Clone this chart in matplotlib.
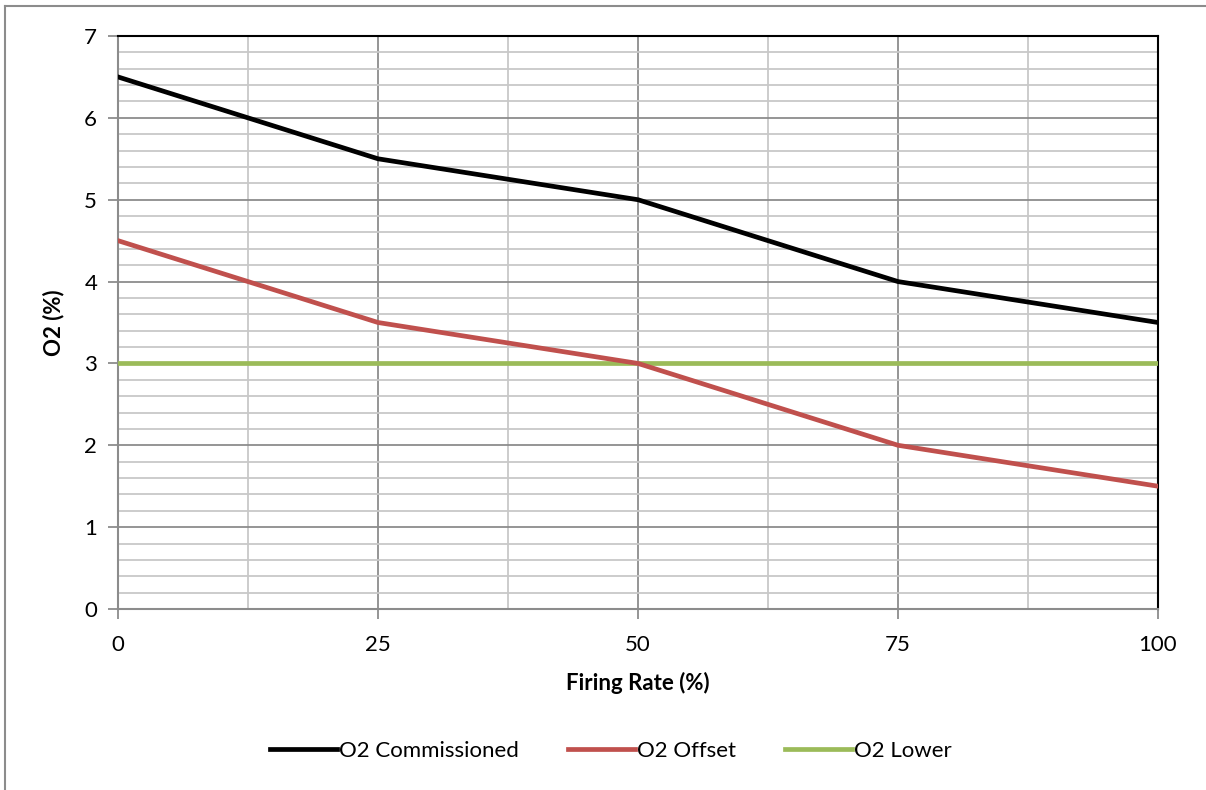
import matplotlib.pyplot as plt
from matplotlib.lines import Line2D
from matplotlib.ticker import MultipleLocator

firing_rate = [0, 25, 50, 75, 100]
o2_commissioned = [6.5, 5.5, 5.0, 4.0, 3.5]
o2_offset = [4.5, 3.5, 3.0, 2.0, 1.5]
o2_lower = [3, 3, 3, 3, 3]

plt.rcParams['font.family'] = ['Lato', 'DejaVu Sans']

fig = plt.figure(figsize=(12.06, 7.9), dpi=100)
ax = fig.add_axes([118 / 1206, 1 - 609 / 790, 1040 / 1206, 573 / 790])

ax.plot(firing_rate, o2_commissioned, color='black', lw=3.4, label='O2 Commissioned', zorder=4)
ax.plot(firing_rate, o2_offset, color='#c0504d', lw=3.4, label='O2 Offset', zorder=4)
ax.plot(firing_rate, o2_lower, color='#9bbb59', lw=3.4, label='O2 Lower', zorder=3)

ax.set_xlim(0, 100)
ax.set_ylim(0, 7)
ax.xaxis.set_major_locator(MultipleLocator(25))
ax.xaxis.set_minor_locator(MultipleLocator(12.5))
ax.yaxis.set_major_locator(MultipleLocator(1))
ax.yaxis.set_minor_locator(MultipleLocator(0.2))
ax.grid(which='major', color='#8c8c8c', lw=1.3)
ax.grid(which='minor', color='#c8c8c8', lw=1.3)
ax.set_axisbelow(True)

for s in ['left', 'bottom']:
    ax.spines[s].set_color('#8c8c8c')
    ax.spines[s].set_linewidth(1.5)
for s in ['top', 'right']:
    ax.spines[s].set_color('black')
    ax.spines[s].set_linewidth(1.5)

ax.tick_params(which='major', length=7, color='#8c8c8c', width=1.3, labelsize=16, pad=8)
ax.tick_params(which='minor', length=0)
ax.tick_params(axis='x', pad=12)

ax.set_xlabel('Firing Rate (%)', fontsize=16, fontweight='bold', labelpad=12)
ax.set_ylabel('O2 (%)', fontsize=16, fontweight='bold', labelpad=14)

ax.legend(loc='center', bbox_to_anchor=(0.474, -0.248), ncol=3, frameon=False,
          fontsize=16, handlelength=3, handletextpad=0.1, columnspacing=2.2)

fig.add_artist(Line2D([5 / 1206, 1205 / 1206], [1 - 6 / 790, 1 - 6 / 790], color='#8c8c8c', lw=1.5))
fig.add_artist(Line2D([5 / 1206, 5 / 1206], [0, 1 - 6 / 790], color='#8c8c8c', lw=1.5))

fig.savefig('out.png', dpi=100)
